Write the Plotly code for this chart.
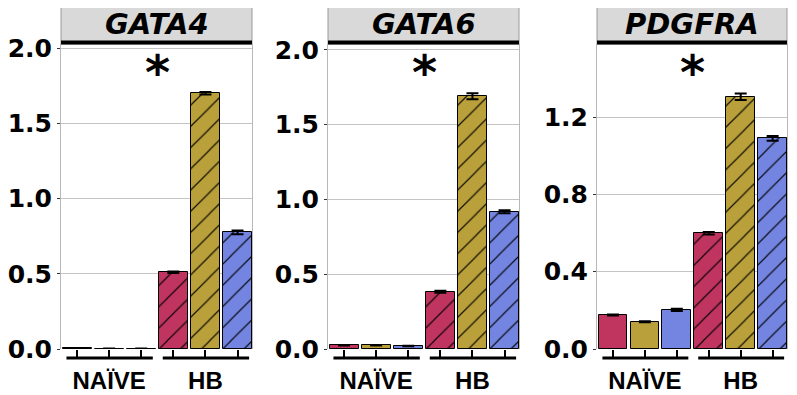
import plotly.graph_objects as go

# ---- data ----
genes = ["GATA4", "GATA6", "PDGFRA"]
groups = ["NAÏVE", "HB"]
series_colors = ["#BF3560", "#B9A03A", "#7385E0"]

# values per gene: [NAÏVE s1, s2, s3, HB s1, s2, s3]
gata4_vals = [0.004, 0.002, 0.002, 0.51, 1.70, 0.775]
gata4_err = [0.001, 0.001, 0.001, 0.005, 0.008, 0.012]
gata6_vals = [0.025, 0.025, 0.02, 0.383, 1.69, 0.918]
gata6_err = [0.002, 0.002, 0.002, 0.006, 0.02, 0.01]
pdgfra_vals = [0.176, 0.141, 0.202, 0.599, 1.305, 1.09]
pdgfra_err = [0.003, 0.003, 0.006, 0.006, 0.017, 0.012]

y_ranges = [[0, 2.027], [0, 2.04], [0, 1.578]]
y_ticks = [[0.0, 0.5, 1.0, 1.5, 2.0], [0.0, 0.5, 1.0, 1.5, 2.0], [0.0, 0.4, 0.8, 1.2]]

values = [gata4_vals, gata6_vals, pdgfra_vals]
errors = [gata4_err, gata6_err, pdgfra_err]

# ---- layout geometry (page body has an 8px default margin) ----
OFF = 8
WIN_W, WIN_H = 797, 395
W, H = WIN_W - OFF, WIN_H - OFF


def px_x(X):
    return (X - OFF) / W


def px_y(Y):
    return (WIN_H - Y) / H


x_domains = [[px_x(61), px_x(252)], [px_x(328), px_x(519)], [px_x(597), px_x(787)]]
y_domain = [px_y(349), px_y(44)]
plot_h = (y_domain[1] - y_domain[0]) * H
strip_h = 38

fig = go.Figure()
n_series = len(series_colors)
n_groups = len(groups)
positions = [gi * n_series + si for gi in range(n_groups) for si in range(n_series)]
group_patterns = ["", "/"]

shapes = []
annotations = []
layout_axes = {}
for i, gene in enumerate(genes):
    sfx = "" if i == 0 else str(i + 1)
    xa, ya = "x" + sfx, "y" + sfx
    for si, col in enumerate(series_colors):
        idx = [gi * n_series + si for gi in range(n_groups)]
        fig.add_trace(go.Bar(
            x=[positions[k] for k in idx], y=[values[i][k] for k in idx],
            xaxis=xa, yaxis=ya, width=0.9,
            marker=dict(color=col, line=dict(color="black", width=1),
                        pattern=dict(shape=group_patterns, fillmode="overlay",
                                     fgcolor="black", fgopacity=0.9, size=15, solidity=0.08)),
            error_y=dict(type="data", array=[errors[i][k] for k in idx],
                         color="black", thickness=2, width=6),
            showlegend=False, hoverinfo="skip",
        ))
    group_centers = [gi * n_series + (n_series - 1) / 2 for gi in range(n_groups)]
    ticktext = [groups[p // n_series] if p in group_centers else "" for p in positions]
    layout_axes["xaxis" + sfx] = dict(
        domain=x_domains[i], anchor=ya, range=[-0.5, 5.45],
        tickvals=positions, ticktext=ticktext, ticks="outside", ticklen=9, tickwidth=2,
        tickcolor="black", showgrid=False, zeroline=False, showline=False,
        tickfont=dict(family="Liberation Sans", size=24, color="black", weight="bold"),
        ticklabelstandoff=1, fixedrange=True, automargin=False,
    )
    layout_axes["yaxis" + sfx] = dict(
        domain=y_domain, anchor=xa, range=y_ranges[i], tickvals=y_ticks[i],
        ticktext=[f"{v:.1f}" for v in y_ticks[i]],
        ticks="outside", ticklen=3, tickwidth=1, tickcolor="#333",
        showgrid=True, gridcolor="#c4c4c4", gridwidth=1,
        zeroline=False, showline=True, linecolor="#b8b8b8", linewidth=1, mirror=True,
        tickfont=dict(family="DejaVu Sans", size=25, color="black", weight="bold"),
        fixedrange=True, automargin=False,
    )
    # bracket lines under each group
    bracket_y = -9 / plot_h
    for gi in range(n_groups):
        x0 = gi * n_series - 0.33
        x1 = gi * n_series + n_series - 1 + 0.36
        shapes.append(dict(type="line", xref=xa, yref=ya + " domain", x0=x0, x1=x1,
                           y0=bracket_y, y1=bracket_y, line=dict(color="black", width=3)))
    # strip
    s0 = 1.0
    s1 = 1.0 + strip_h / plot_h
    shapes.append(dict(type="rect", xref=xa + " domain", yref=ya + " domain",
                       x0=0, x1=1, y0=s0, y1=s1, fillcolor="#d9d9d9",
                       line=dict(color="#9a9a9a", width=1), layer="above"))
    shapes.append(dict(type="line", xref=xa + " domain", yref=ya + " domain",
                       x0=0, x1=1, y0=s1, y1=s1, line=dict(color="black", width=2)))
    shapes.append(dict(type="line", xref=xa + " domain", yref=ya + " domain",
                       x0=0, x1=1, y0=s0 + 1.5 / plot_h, y1=s0 + 1.5 / plot_h,
                       line=dict(color="black", width=4)))
    annotations.append(dict(text=f"<b><i>{gene}</i></b>", xref=xa + " domain", yref=ya + " domain",
                            x=0.5, y=(s0 + s1) / 2 + 1 / plot_h, showarrow=False,
                            xanchor="center", yanchor="middle",
                            font=dict(family="DejaVu Sans", size=29, color="black")))
    annotations.append(dict(text="<b>*</b>", xref=xa, yref=ya + " domain", x=2.5,
                            y=1 + 2 / plot_h, showarrow=False, xanchor="center", yanchor="top",
                            font=dict(family="DejaVu Sans", size=48, color="black")))

fig.update_layout(
    width=W, height=H, margin=dict(l=0, r=0, t=0, b=0),
    paper_bgcolor="white", plot_bgcolor="white",
    bargap=0, barmode="overlay", shapes=shapes, annotations=annotations, **layout_axes,
)
fig.write_html("out.html")
